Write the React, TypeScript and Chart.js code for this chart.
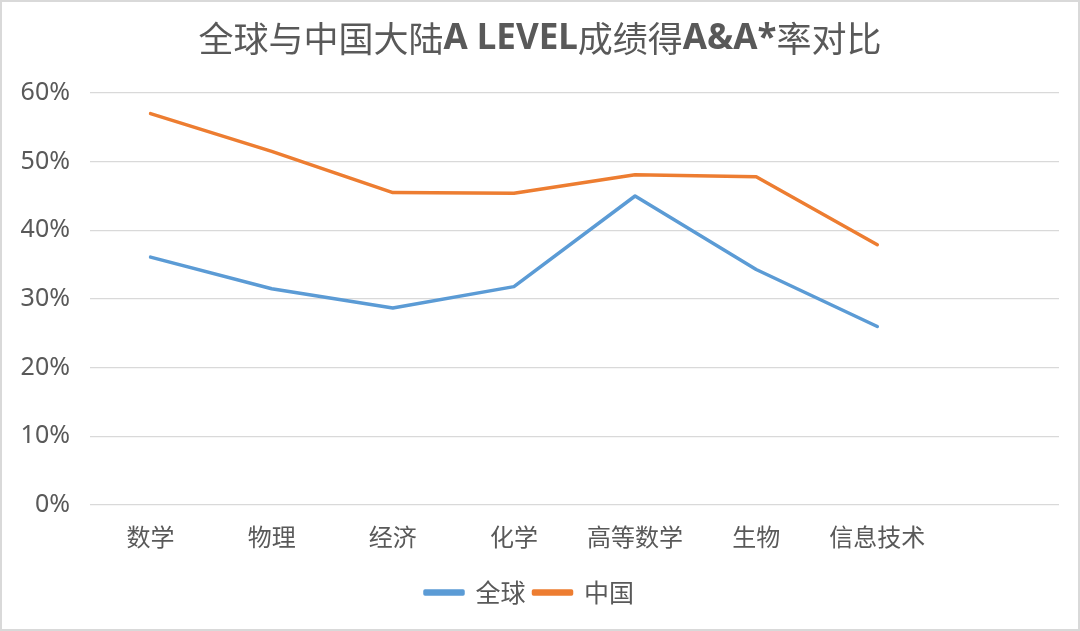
import React, { useEffect, useRef } from 'react';
import { Chart, registerables } from 'chart.js';

Chart.register(...registerables);

// ---- Data ----
const categories = ['数学', '物理', '经济', '化学', '高等数学', '生物', '信息技术', ''];
const globalValues = [36.1, 31.5, 28.7, 31.8, 45.0, 34.3, 26.0, null];
const chinaValues = [57.0, 51.5, 45.5, 45.4, 48.1, 47.8, 37.9, null];
const yTickValues = [0, 10, 20, 30, 40, 50, 60];
const seriesNames = ['全球', '中国'];
const titleParts = [
  { text: '全球与中国大陆', bold: false },
  { text: 'A LEVEL', bold: true },
  { text: '成绩得', bold: false },
  { text: 'A&A*', bold: true },
  { text: '率对比', bold: false },
];

const BLUE = '#5B9BD5';
const ORANGE = '#ED7D31';
const TEXT = '#595959';
const GRID = '#D9D9D9';
const CJK = '"Noto Sans CJK SC", "Noto Sans", sans-serif';

const framePlugin = {
  id: 'frame',
  beforeDraw(chart: any) {
    const { ctx, width, height } = chart;
    ctx.save();
    ctx.fillStyle = '#ffffff';
    ctx.fillRect(0, 0, width, height);
    ctx.strokeStyle = '#D9D9D9';
    ctx.lineWidth = 2;
    ctx.strokeRect(1, 1, width - 2, height - 2);
    ctx.restore();
  },
  afterDraw(chart: any) {
    const { ctx, width } = chart;
    ctx.save();
    ctx.textBaseline = 'middle';
    ctx.fillStyle = TEXT;
    const size = 35;
    const fontOf = (b: boolean) =>
      b ? `bold ${size}px "Noto Sans", ${CJK}` : `${size}px ${CJK}`;
    let total = 0;
    const widths = titleParts.map((p) => {
      ctx.font = fontOf(p.bold);
      const w = ctx.measureText(p.text).width;
      total += w;
      return w;
    });
    let x = width / 2 - total / 2;
    titleParts.forEach((p, i) => {
      ctx.font = fontOf(p.bold);
      ctx.textAlign = 'left';
      ctx.fillText(p.text, x, 39);
      x += widths[i];
    });
    ctx.restore();
  },
};

function ChartView() {
  const ref = useRef<HTMLCanvasElement | null>(null);
  useEffect(() => {
    document.body.style.margin = '0';
    let chart: Chart | null = null;
    let cancelled = false;
    const make = () => {
      if (cancelled || !ref.current) return;
      chart = new Chart(ref.current, {
        type: 'line',
        data: {
          labels: categories,
          datasets: [
            {
              label: seriesNames[0],
              data: globalValues,
              borderColor: BLUE,
              backgroundColor: BLUE,
              borderWidth: 3.5,
              pointRadius: 0,
              tension: 0,
              borderCapStyle: 'round',
              borderJoinStyle: 'round',
            },
            {
              label: seriesNames[1],
              data: chinaValues,
              borderColor: ORANGE,
              backgroundColor: ORANGE,
              borderWidth: 3.5,
              pointRadius: 0,
              tension: 0,
              borderCapStyle: 'round',
              borderJoinStyle: 'round',
            },
          ],
        },
        options: {
          animation: false,
          responsive: true,
          maintainAspectRatio: false,
          layout: { padding: { top: 93, right: 21, bottom: 16, left: 0 } },
          plugins: {
            title: { display: false },
            tooltip: { enabled: false },
            legend: {
              position: 'bottom',
              labels: {
                boxWidth: 38,
                boxHeight: 3,
                padding: 8,
                color: TEXT,
                font: { family: CJK, size: 25 },
              },
            },
          },
          scales: {
            x: {
              offset: true,
              grid: { display: false },
              border: { display: false },
              ticks: {
                color: TEXT,
                font: { family: CJK, size: 24 },
                padding: 9,
                maxRotation: 0,
                autoSkip: false,
              },
              afterFit(scale: any) {
                scale.height = 67;
              },
            },
            y: {
              min: 0,
              max: 60,
              grid: { color: GRID, lineWidth: 1.3, drawTicks: false },
              border: { display: false },
              afterBuildTicks(scale: any) {
                scale.ticks = yTickValues.map((v) => ({ value: v }));
              },
              ticks: {
                color: TEXT,
                font: { family: '"Noto Sans", sans-serif', size: 25 },
                padding: 20,
                callback: (v: any) => `${v}%`,
              },
              afterFit(scale: any) {
                scale.width = 90;
              },
            },
          },
        },
        plugins: [framePlugin],
      } as any);
    };
    const fontsReady = (document as any).fonts
      ? Promise.all([
          (document as any).fonts.load(`24px "Noto Sans CJK SC"`),
          (document as any).fonts.load(`25px "Noto Sans"`),
          (document as any).fonts.load(`bold 35px "Noto Sans"`),
        ]).catch(() => null)
      : Promise.resolve(null);
    fontsReady.then(make);
    return () => {
      cancelled = true;
      if (chart) chart.destroy();
    };
  }, []);
  return (
    <div style={{ width: 1080, height: 631, position: 'relative' }}>
      <canvas ref={ref} />
    </div>
  );
}

export default function App() {
  return <ChartView />;
}
